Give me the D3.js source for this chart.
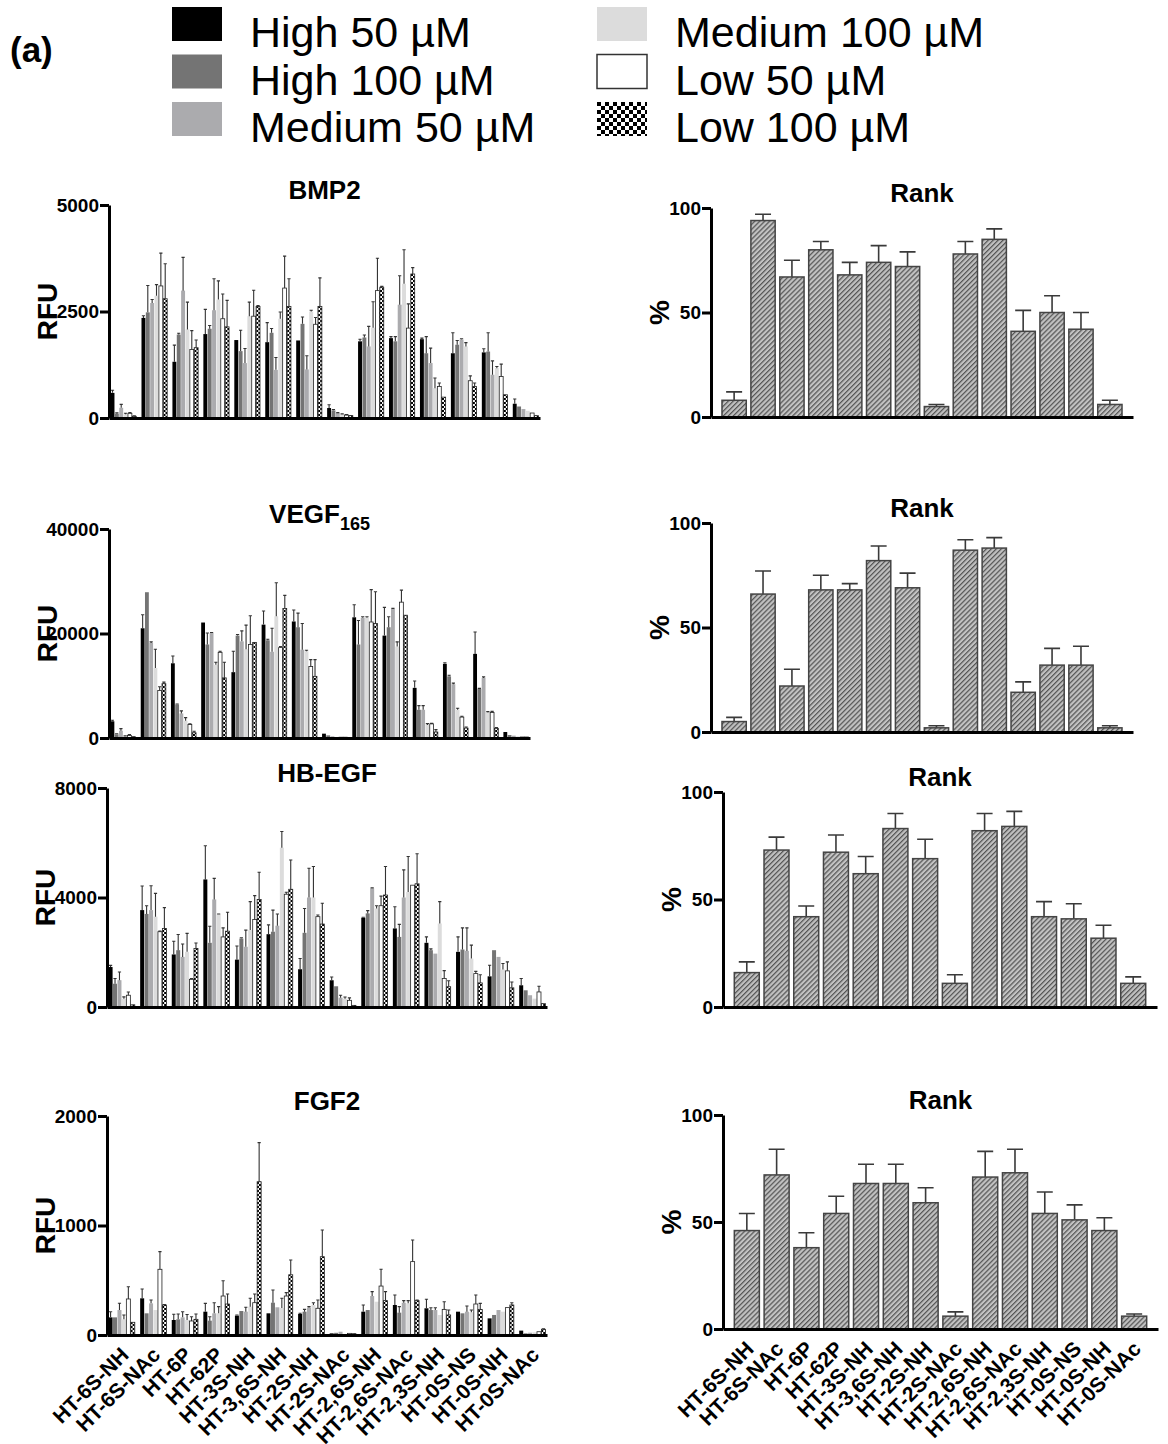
<!DOCTYPE html>
<html>
<head>
<meta charset="utf-8">
<script src="https://cdn.jsdelivr.net/npm/d3@7"></script>
<style>
  body { margin: 0; background: #fff; }
  svg { display: block; }
</style>
</head>
<body>
<script>
// heparin derivatives (x categories)
const categories = ["HT-6S-NH", "HT-6S-NAc", "HT-6P", "HT-62P", "HT-3S-NH", "HT-3,6S-NH", "HT-2S-NH",
  "HT-2S-NAc", "HT-2,6S-NH", "HT-2,6S-NAc", "HT-2,3S-NH", "HT-0S-NS", "HT-0S-NH", "HT-0S-NAc"];
const seriesNames = ["High 50 µM", "High 100 µM", "Medium 50 µM", "Medium 100 µM", "Low 50 µM", "Low 100 µM"];

// one row per derivative, 6 conditions in seriesNames order
const bmp2Mean = [
  [590, 100, 240, 90, 110, 40], [2350, 2480, 2700, 2870, 3100, 2800], [1320, 1960, 2990, 2080, 1610, 1650],
  [1970, 2095, 2530, 2780, 2330, 2140], [1830, 1570, 1290, 2390, 2390, 2620], [1780, 2000, 1130, 2330, 3050, 2620],
  [1820, 2210, 1140, 2500, 2200, 2620], [234, 180, 117, 86, 70, 55], [1800, 1890, 1680, 2120, 2990, 3070],
  [1875, 1800, 2660, 3150, 2110, 3380], [1850, 1520, 1290, 700, 740, 490], [1520, 1720, 1840, 1680, 875, 740],
  [1540, 1560, 1015, 1170, 975, 545], [335, 270, 210, 170, 117, 55]];
const bmp2Err = [
  [60, 20, 80, 20, 20, 10], [50, 630, 80, 260, 770, 820], [390, 30, 780, 640, 440, 180],
  [580, 75, 740, 440, 580, 620], [0, 490, 340, 330, 610, 20], [460, 100, 290, 160, 750, 650],
  [0, 160, 320, 30, 160, 670], [78, 20, 10, 10, 10, 5], [50, 60, 470, 610, 760, 20],
  [35, 110, 680, 800, 570, 150], [25, 390, 350, 240, 80, 0], [480, 100, 20, 90, 115, 80],
  [85, 440, 325, 40, 290, 0], [110, 0, 0, 0, 0, 0]];

const vegfMean = [
  [3200, 700, 1400, 300, 500, 200], [21000, 27900, 18200, 13400, 9100, 10400], [14300, 6400, 4700, 3300, 2600, 1000],
  [22100, 17900, 20100, 14000, 16400, 11500], [12600, 19600, 18500, 17000, 17900, 18300], [21700, 18700, 16500, 23300, 17300, 24800],
  [22300, 21200, 16900, 16600, 13700, 11800], [830, 510, 320, 200, 150, 150], [23100, 17900, 23000, 23000, 22200, 21900],
  [19600, 21200, 24700, 17500, 26000, 23500], [9600, 5400, 5400, 2500, 2700, 1150], [14200, 11800, 10300, 5400, 4000, 1900],
  [16100, 9400, 11500, 4900, 4900, 1850], [1150, 575, 450, 320, 190, 190]];
const vegfErr = [
  [200, 100, 400, 100, 150, 50], [2600, 0, 200, 3600, 700, 300], [1400, 100, 500, 600, 100, 300],
  [0, 2200, 100, 500, 200, 3000], [4000, 200, 2000, 4600, 5500, 0], [2600, 200, 4500, 6400, 200, 2500],
  [2200, 2700, 5000, 200, 1300, 3200], [0, 0, 0, 0, 0, 0], [2400, 4600, 200, 200, 6200, 6100],
  [5400, 2000, 100, 900, 2300, 0], [1300, 800, 800, 250, 100, 450], [200, 200, 200, 300, 150, 200],
  [4200, 100, 200, 150, 200, 150], [0, 0, 0, 0, 0, 0]];

const hbegfMean = [
  [1460, 850, 980, 300, 430, 80], [3540, 3400, 3540, 3300, 2750, 2870], [1920, 2075, 1830, 2015, 1010, 2140],
  [4660, 2345, 3930, 3380, 2560, 2770], [1730, 2500, 2200, 2810, 3200, 3930], [2660, 2750, 2970, 5820, 4120, 4300],
  [1380, 2710, 4000, 4000, 3300, 3030], [977, 757, 340, 305, 244, 60], [3260, 3420, 4330, 3600, 3700, 4090],
  [2870, 2560, 4000, 4200, 4450, 4500], [2345, 2075, 1950, 3050, 1040, 740], [2015, 2100, 2050, 1770, 1220, 880],
  [1120, 2075, 1830, 1370, 1320, 700], [794, 610, 430, 305, 550, 122]];
const hbegfErr = [
  [60, 190, 300, 70, 120, 0], [880, 300, 890, 850, 20, 760], [480, 575, 470, 675, 30, 200],
  [1230, 605, 770, 20, 330, 690], [500, 30, 610, 1040, 870, 990], [340, 790, 430, 590, 70, 1070],
  [390, 890, 1070, 1130, 60, 760], [120, 0, 90, 60, 90, 0], [20, 100, 20, 100, 350, 1040],
  [790, 460, 1010, 1300, 0, 1100], [215, 50, 0, 800, 290, 220], [545, 790, 840, 490, 80, 300],
  [405, 0, 0, 220, 330, 215], [246, 0, 0, 0, 207, 0]];

const fgf2Mean = [
  [161, 161, 228, 143, 329, 116], [335, 198, 289, 228, 600, 274], [137, 143, 161, 137, 128, 143],
  [213, 131, 198, 198, 356, 283], [177, 219, 213, 259, 295, 1400], [198, 295, 253, 247, 356, 550],
  [192, 213, 250, 274, 244, 715], [15, 20, 30, 10, 15, 12], [213, 228, 356, 304, 447, 314],
  [274, 204, 295, 289, 670, 314], [244, 228, 228, 183, 234, 183], [213, 198, 213, 207, 283, 234],
  [152, 183, 228, 213, 250, 274], [40, 15, 21, 24, 30, 52]];
const fgf2Err = [
  [52, 0, 62, 40, 112, 0], [85, 0, 31, 0, 161, 5], [52, 49, 52, 50, 39, 49],
  [76, 36, 97, 61, 140, 91], [5, 0, 40, 76, 79, 357], [0, 116, 0, 88, 31, 135],
  [6, 21, 9, 21, 76, 244], [0, 0, 0, 0, 0, 0], [61, 0, 40, 0, 153, 82],
  [91, 55, 19, 25, 198, 6], [82, 21, 21, 0, 70, 45], [0, 0, 52, 21, 82, 55],
  [0, 0, 0, 0, 0, 21], [0, 0, 0, 0, 0, 5]];

// rank (%)
const bmp2Rank = [8, 94, 67, 80, 68, 74, 72, 5, 78, 85, 41, 50, 42, 6];
const bmp2RankErr = [4, 3, 8, 4, 6, 8, 7, 1, 6, 5, 10, 8, 8, 2];
const vegfRank = [5, 66, 22, 68, 68, 82, 69, 2, 87, 88, 19, 32, 32, 2];
const vegfRankErr = [2, 11, 8, 7, 3, 7, 7, 1, 5, 5, 5, 8, 9, 1];
const hbegfRank = [16, 73, 42, 72, 62, 83, 69, 11, 82, 84, 42, 41, 32, 11];
const hbegfRankErr = [5, 6, 5, 8, 8, 7, 9, 4, 8, 7, 7, 7, 6, 3];
const fgf2Rank = [46, 72, 38, 54, 68, 68, 59, 6, 71, 73, 54, 51, 46, 6];
const fgf2RankErr = [8, 12, 7, 8, 9, 9, 7, 2, 12, 11, 10, 7, 6, 1];

const bmp2Ticks = [0, 2500, 5000];
const vegfTicks = [0, 20000, 40000];
const hbegfTicks = [0, 4000, 8000];
const fgf2Ticks = [0, 1000, 2000];
const rankTicks = [0, 50, 100];

const font = "'Liberation Sans', Arial, sans-serif";
const seriesFill = ["#000", "#747474", "#ababae", "#dcdcdc", "#fff", "url(#checker)"];
const seriesStroke = ["none", "none", "none", "none", "#222", "#222"];

const svg = d3.select("body").append("svg").attr("width", 1168).attr("height", 1444);
const defs = svg.append("defs");

function checker(id, c) {
  const p = defs.append("pattern").attr("id", id).attr("patternUnits", "userSpaceOnUse")
    .attr("width", 2 * c).attr("height", 2 * c);
  p.append("rect").attr("width", 2 * c).attr("height", 2 * c).attr("fill", "#fff");
  p.append("rect").attr("width", c).attr("height", c).attr("fill", "#000");
  p.append("rect").attr("x", c).attr("y", c).attr("width", c).attr("height", c).attr("fill", "#000");
}
checker("checker", 2);
checker("checkerBig", 4);

const hatch = defs.append("pattern").attr("id", "hatch").attr("patternUnits", "userSpaceOnUse")
  .attr("width", 3.5).attr("height", 3.5).attr("patternTransform", "rotate(45)");
hatch.append("rect").attr("width", 3.5).attr("height", 3.5).attr("fill", "#c2c2c2");
hatch.append("line").attr("x1", 0.6).attr("x2", 0.6).attr("y1", 0).attr("y2", 3.5)
  .attr("stroke", "#555").attr("stroke-width", 1.3);

// label (a)
svg.append("text").attr("x", 10).attr("y", 62).text("(a)")
  .attr("font-family", font).attr("font-weight", "bold").attr("font-size", 35);

// legend
const leg = svg.append("g").selectAll("g").data(seriesNames).join("g")
  .attr("transform", (d, i) => `translate(${i < 3 ? 172 : 597},${7 + (i % 3) * 47.5})`);
leg.append("rect").attr("width", 50).attr("height", 34)
  .attr("fill", (d, i) => i === 5 ? "url(#checkerBig)" : seriesFill[i])
  .attr("stroke", (d, i) => i === 4 ? "#333" : "none").attr("stroke-width", 1.5);
leg.append("text").attr("x", 78).attr("y", 40).text(d => d)
  .attr("font-family", font).attr("font-size", 43);

function styleAxis(a) {
  a.selectAll("path, line").attr("stroke", "#000").attr("stroke-width", 3);
  a.selectAll("text").attr("font-family", font).attr("font-weight", "bold").attr("font-size", 19).attr("fill", "#000");
}

function frame(g, p, x, y, ylab, labOff) {
  const ya = g.append("g").attr("transform", `translate(${p.x0},0)`)
    .call(d3.axisLeft(y).tickValues(p.ticks).tickFormat(d3.format("d")).tickSize(9).tickSizeOuter(0).tickPadding(1));
  styleAxis(ya);
  const xa = g.append("g").attr("transform", `translate(0,${p.y0})`)
    .call(d3.axisBottom(x).tickSize(0).tickSizeOuter(0));
  styleAxis(xa);
  if (p.labels) {
    xa.selectAll("text").attr("y", 0).attr("dy", "0.35em")
      .attr("transform", "translate(3,16) rotate(-45)").style("text-anchor", "end").attr("font-size", 21);
  } else {
    xa.selectAll("text").remove();
  }
  const t = g.append("text").attr("x", (p.x0 + p.x1) / 2).attr("y", p.yTop - 6)
    .attr("text-anchor", "middle").attr("font-family", font).attr("font-weight", "bold").attr("font-size", 26);
  t.append("tspan").text(p.title);
  if (p.sub) t.append("tspan").attr("font-size", 18).attr("dy", 7).text(p.sub);
  g.append("text").attr("transform", `translate(${p.x0 - labOff},${(p.y0 + p.yTop) / 2}) rotate(-90)`)
    .attr("text-anchor", "middle").attr("font-family", font).attr("font-weight", "bold").attr("font-size", 28)
    .text(ylab);
}

function drawGrouped(p) {
  const g = svg.append("g");
  const x = d3.scaleBand().domain(categories).range([p.x0, p.x1]).paddingInner(0.17).paddingOuter(0.05);
  const xs = d3.scaleBand().domain(d3.range(seriesNames.length)).range([0, x.bandwidth()]).paddingInner(0.1);
  const y = d3.scaleLinear().domain([0, p.ticks[p.ticks.length - 1]]).range([p.y0, p.yTop]);

  const grp = g.selectAll("g.grp").data(categories).join("g").attr("class", "grp")
    .attr("transform", d => `translate(${x(d)},0)`);
  const bar = grp.selectAll("g").data((d, i) => p.mean[i].map((v, j) => ({ v, e: p.err[i][j], j }))).join("g");
  bar.append("rect")
    .attr("x", d => xs(d.j)).attr("width", xs.bandwidth())
    .attr("y", d => y(d.v)).attr("height", d => p.y0 - y(d.v))
    .attr("fill", d => seriesFill[d.j]).attr("stroke", d => seriesStroke[d.j]).attr("stroke-width", 0.8);
  bar.filter(d => d.e > 0).append("path")
    .attr("d", d => {
      const cx = xs(d.j) + xs.bandwidth() / 2, yt = y(d.v + d.e);
      return `M${cx},${y(d.v)}V${yt}M${cx - 1.6},${yt}H${cx + 1.6}`;
    })
    .attr("stroke", "#333").attr("stroke-width", 1.1).attr("fill", "none");
  frame(g, p, x, y, "RFU", 52);
}

function drawRank(p) {
  const g = svg.append("g");
  const x = d3.scaleBand().domain(categories).range([p.x0, p.x1]).paddingInner(0.16).paddingOuter(0.38);
  const y = d3.scaleLinear().domain([0, 100]).range([p.y0, p.yTop]);
  const bar = g.selectAll("g.bar").data(categories.map((c, i) => ({ c, v: p.rank[i], e: p.err[i] }))).join("g");
  bar.append("path")
    .attr("d", d => {
      const cx = x(d.c) + x.bandwidth() / 2, yt = y(d.v + d.e);
      return `M${cx},${y(d.v)}V${yt}M${cx - 8},${yt}H${cx + 8}`;
    })
    .attr("stroke", "#3a3a3a").attr("stroke-width", 1.6).attr("fill", "none");
  bar.append("rect")
    .attr("x", d => x(d.c)).attr("width", x.bandwidth())
    .attr("y", d => y(d.v)).attr("height", d => p.y0 - y(d.v))
    .attr("fill", "url(#hatch)").attr("stroke", "#444").attr("stroke-width", 1.5);
  frame(g, p, x, y, "%", 42);
}

const leftPanels = [
  { title: "BMP2", mean: bmp2Mean, err: bmp2Err, ticks: bmp2Ticks, x0: 109, x1: 540, yTop: 205, y0: 418 },
  { title: "VEGF", sub: "165", mean: vegfMean, err: vegfErr, ticks: vegfTicks, x0: 109, x1: 530, yTop: 529, y0: 738 },
  { title: "HB-EGF", mean: hbegfMean, err: hbegfErr, ticks: hbegfTicks, x0: 107, x1: 547, yTop: 788, y0: 1007 },
  { title: "FGF2", mean: fgf2Mean, err: fgf2Err, ticks: fgf2Ticks, x0: 107, x1: 547, yTop: 1116, y0: 1335, labels: true }
];
const rightPanels = [
  { title: "Rank", rank: bmp2Rank, err: bmp2RankErr, ticks: rankTicks, x0: 711, x1: 1133, yTop: 208, y0: 417 },
  { title: "Rank", rank: vegfRank, err: vegfRankErr, ticks: rankTicks, x0: 711, x1: 1133, yTop: 523, y0: 732 },
  { title: "Rank", rank: hbegfRank, err: hbegfRankErr, ticks: rankTicks, x0: 723, x1: 1157, yTop: 792, y0: 1007 },
  { title: "Rank", rank: fgf2Rank, err: fgf2RankErr, ticks: rankTicks, x0: 723, x1: 1158, yTop: 1115, y0: 1329, labels: true }
];

leftPanels.forEach(drawGrouped);
rightPanels.forEach(drawRank);
</script>
</body>
</html>
